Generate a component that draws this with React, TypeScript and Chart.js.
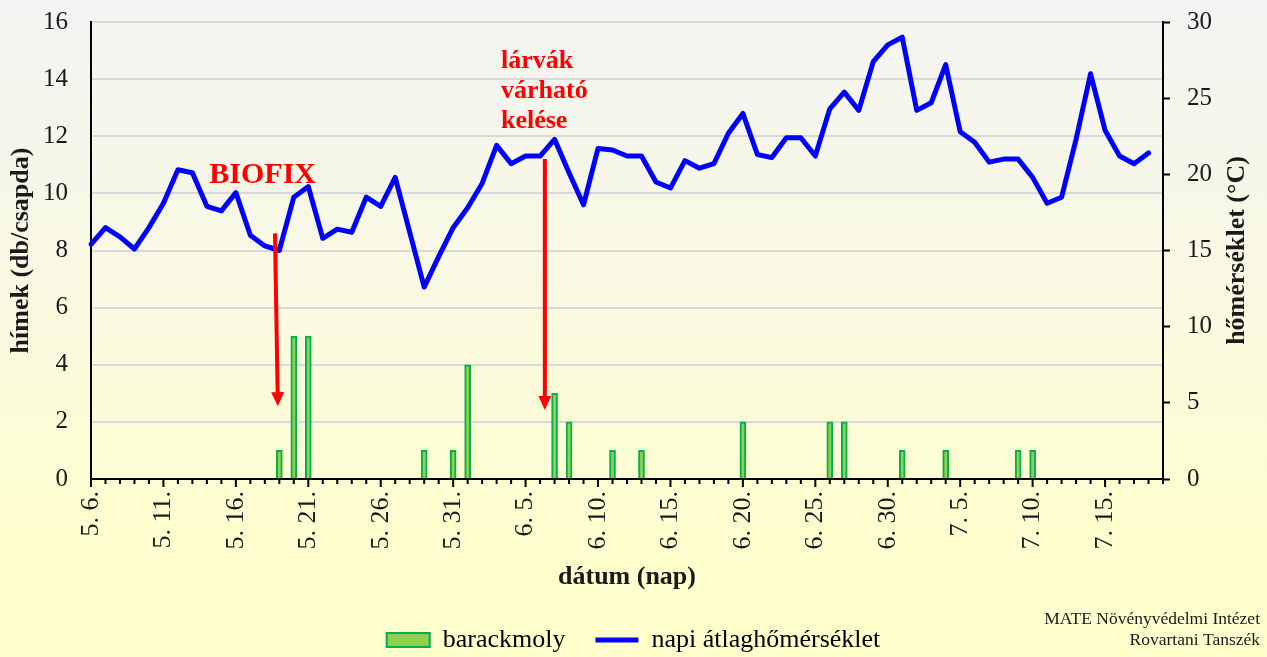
import React, { useEffect, useRef } from 'react';
import { Chart, registerables } from 'chart.js';

Chart.register(...registerables);

// ---------- DATA ----------
const categories: string[] = [
  '5. 6.', '5. 7.', '5. 8.', '5. 9.', '5. 10.', '5. 11.', '5. 12.', '5. 13.', '5. 14.', '5. 15.',
  '5. 16.', '5. 17.', '5. 18.', '5. 19.', '5. 20.', '5. 21.', '5. 22.', '5. 23.', '5. 24.', '5. 25.',
  '5. 26.', '5. 27.', '5. 28.', '5. 29.', '5. 30.', '5. 31.',
  '6. 1.', '6. 2.', '6. 3.', '6. 4.', '6. 5.', '6. 6.', '6. 7.', '6. 8.', '6. 9.', '6. 10.',
  '6. 11.', '6. 12.', '6. 13.', '6. 14.', '6. 15.', '6. 16.', '6. 17.', '6. 18.', '6. 19.', '6. 20.',
  '6. 21.', '6. 22.', '6. 23.', '6. 24.', '6. 25.', '6. 26.', '6. 27.', '6. 28.', '6. 29.', '6. 30.',
  '7. 1.', '7. 2.', '7. 3.', '7. 4.', '7. 5.', '7. 6.', '7. 7.', '7. 8.', '7. 9.', '7. 10.',
  '7. 11.', '7. 12.', '7. 13.', '7. 14.', '7. 15.', '7. 16.', '7. 17.', '7. 18.', '7. 19.',
];

// barackmoly (males per trap)
const mothCounts: (number | null)[] = [
  null, null, null, null, null, null, null, null, null, null,
  null, null, null, 1, 5, 5, null, null, null, null,
  null, null, null, 1, null, 1,
  4, null, null, null, null, null, 3, 2, null, null,
  1, null, 1, null, null, null, null, null, null, 2,
  null, null, null, null, null, 2, 2, null, null, null,
  1, null, null, 1, null, null, null, null, 1, 1,
  null, null, null, null, null, null, null, null, null,
];

// napi átlaghőmérséklet (°C)
const temperature: (number | null)[] = [
  15.4, 16.5, 15.9, 15.1, 16.5, 18.1, 20.3, 20.1, 17.9, 17.6,
  18.8, 16.0, 15.3, 15.0, 18.5, 19.2, 15.8, 16.4, 16.2, 18.5,
  17.9, 19.8, 16.2, 12.6, 14.6, 16.5,
  17.8, 19.4, 21.9, 20.7, 21.2, 21.2, 22.3, 20.1, 18.0, 21.7,
  21.6, 21.2, 21.2, 19.5, 19.1, 20.9, 20.4, 20.7, 22.7, 24.0,
  21.3, 21.1, 22.4, 22.4, 21.2, 24.3, 25.4, 24.2, 27.4, 28.5,
  29.0, 24.2, 24.7, 27.2, 22.8, 22.1, 20.8, 21.0, 21.0, 19.8,
  18.1, 18.5, 22.3, 26.6, 22.9, 21.2, 20.7, 21.4, null,
];

const labelEvery = 5;
const leftAxis = { min: 0, max: 16, step: 2 };
const rightAxis = { min: 0, max: 30, step: 5 };

// annotations in data coordinates (x = category index, y = left axis value)
const arrowBiofix = { x1: 12.7, y1: 8.6, x2: 12.9, y2: 2.55 };
const arrowLarvae = { x1: 31.33, y1: 11.2, x2: 31.33, y2: 2.42 };
const biofixLabel = { text: 'BIOFIX', x: 11.85, y: 10.36 };
const larvaeLines = ['lárvák', 'várható', 'kelése'];
const larvaeLineY = [14.39, 13.34, 12.29];
const larvaeX = 28.3;

const footerLines = ['MATE Növényvédelmi Intézet', 'Rovartani Tanszék'];

const FONT = "'Liberation Serif', 'Times New Roman', serif";
const TEXT = '#1a1a1a';

const W = 1267;
const H = 657;

const bgPlugin = {
  id: 'bgGradient',
  beforeDraw(chart: any) {
    const { ctx, width, height } = chart;
    const g = ctx.createLinearGradient(0, 0, 0, height);
    g.addColorStop(0, '#F3F4F2');
    g.addColorStop(0.45, '#F9F9E2');
    g.addColorStop(0.8, '#FEFECF');
    g.addColorStop(1, '#FFFFCB');
    ctx.save();
    ctx.fillStyle = g;
    ctx.fillRect(0, 0, width, height);
    ctx.restore();
  },
};

function drawArrow(ctx: CanvasRenderingContext2D, x1: number, y1: number, x2: number, y2: number) {
  const dx = x2 - x1;
  const dy = y2 - y1;
  const len = Math.hypot(dx, dy);
  const ux = dx / len;
  const uy = dy / len;
  const headLen = 14;
  const headHalf = 6.5;
  const bx = x2 - ux * headLen;
  const by = y2 - uy * headLen;
  ctx.save();
  ctx.strokeStyle = '#FF0000';
  ctx.fillStyle = '#FF0000';
  ctx.lineWidth = 4;
  ctx.beginPath();
  ctx.moveTo(x1, y1);
  ctx.lineTo(bx + ux * 1, by + uy * 1);
  ctx.stroke();
  ctx.beginPath();
  ctx.moveTo(x2, y2);
  ctx.lineTo(bx - uy * headHalf, by + ux * headHalf);
  ctx.lineTo(bx + uy * headHalf, by - ux * headHalf);
  ctx.closePath();
  ctx.fill();
  ctx.restore();
}

const annotationPlugin = {
  id: 'annotations',
  afterDatasetsDraw(chart: any) {
    const { ctx } = chart;
    const xs = chart.scales.x;
    const ys = chart.scales.y;
    const px = (v: number) => xs.getPixelForValue(v);
    const py = (v: number) => ys.getPixelForValue(v);

    drawArrow(ctx, px(arrowBiofix.x1), py(arrowBiofix.y1), px(arrowBiofix.x2), py(arrowBiofix.y2));
    drawArrow(ctx, px(arrowLarvae.x1), py(arrowLarvae.y1), px(arrowLarvae.x2), py(arrowLarvae.y2));

    ctx.save();
    ctx.fillStyle = '#FF0000';
    ctx.textBaseline = 'alphabetic';
    ctx.font = `bold 30px ${FONT}`;
    ctx.textAlign = 'center';
    ctx.fillText(biofixLabel.text, px(biofixLabel.x), py(biofixLabel.y));
    ctx.font = `bold 26px ${FONT}`;
    ctx.textAlign = 'left';
    larvaeLines.forEach((t, i) => {
      ctx.fillText(t, px(larvaeX), py(larvaeLineY[i]));
    });
    ctx.restore();
  },
  afterDraw(chart: any) {
    const { ctx, chartArea } = chart;
    const xs = chart.scales.x;
    const y1 = chart.scales.y1;
    // x-axis tick marks: minor each day, major every 5 days
    ctx.save();
    ctx.strokeStyle = '#000000';
    ctx.lineWidth = 2;
    ctx.beginPath();
    for (let i = 0; i < categories.length; i++) {
      const x = xs.getPixelForValue(i);
      const len = i % labelEvery === 0 ? 8 : 5;
      ctx.moveTo(x, chartArea.bottom);
      ctx.lineTo(x, chartArea.bottom + len);
    }
    ctx.stroke();

    // right axis title (reads bottom-to-top)
    ctx.fillStyle = TEXT;
    ctx.font = `bold 26px ${FONT}`;
    ctx.textAlign = 'center';
    ctx.textBaseline = 'middle';
    ctx.translate(y1.right - 30, (chartArea.top + chartArea.bottom) / 2);
    ctx.rotate(-Math.PI / 2);
    ctx.fillText('hőmérséklet (°C)', 0, 0);
    ctx.restore();

    // footer
    ctx.save();
    ctx.fillStyle = TEXT;
    ctx.font = `17.5px ${FONT}`;
    ctx.textAlign = 'right';
    ctx.textBaseline = 'alphabetic';
    ctx.fillText(footerLines[0], chart.width - 7, 624);
    ctx.fillText(footerLines[1], chart.width - 7, 645);
    ctx.restore();
  },
};

export default function App() {
  const canvasRef = useRef<HTMLCanvasElement | null>(null);

  useEffect(() => {
    if (!canvasRef.current) return;
    Chart.defaults.font.family = FONT;
    Chart.defaults.color = TEXT;

    const chart = new Chart(canvasRef.current, {
      type: 'bar',
      data: {
        labels: categories,
        datasets: [
          {
            type: 'line',
            label: 'napi átlaghőmérséklet',
            data: temperature,
            yAxisID: 'y1',
            borderColor: '#0000FF',
            backgroundColor: '#0000FF',
            borderWidth: 5,
            pointRadius: 0,
            tension: 0,
            borderJoinStyle: 'round',
            borderCapStyle: 'round',
            spanGaps: false,
            order: 0,
          } as any,
          {
            type: 'bar',
            label: 'barackmoly',
            data: mothCounts,
            yAxisID: 'y',
            backgroundColor: '#92D050',
            borderColor: '#00B050',
            borderWidth: 2,
            barThickness: 6,
            order: 1,
          } as any,
        ],
      },
      options: {
        responsive: false,
        animation: false,
        layout: { padding: { top: 22, left: 0, right: 0, bottom: -6 } },
        plugins: {
          tooltip: { enabled: false },
          legend: {
            display: true,
            position: 'bottom',
            labels: {
              usePointStyle: true,
              pointStyleWidth: 43,
              boxHeight: 14,
              padding: 30,
              color: TEXT,
              font: { family: FONT, size: 26 },
              generateLabels: () => [
                {
                  text: 'barackmoly',
                  fillStyle: '#92D050',
                  strokeStyle: '#00B050',
                  lineWidth: 2,
                  pointStyle: 'rect',
                  datasetIndex: 1,
                  hidden: false,
                } as any,
                {
                  text: 'napi átlaghőmérséklet',
                  fillStyle: '#0000FF',
                  strokeStyle: '#0000FF',
                  lineWidth: 5,
                  pointStyle: 'line',
                  datasetIndex: 0,
                  hidden: false,
                } as any,
              ],
            },
          },
        },
        scales: {
          x: {
            type: 'category',
            offset: false,
            grid: { display: false, drawTicks: false },
            border: { display: true, color: '#000000', width: 2 },
            ticks: {
              autoSkip: false,
              minRotation: 90,
              maxRotation: 90,
              padding: 12,
              color: TEXT,
              font: { family: FONT, size: 26 },
              callback: (_v: any, i: number) => (i % labelEvery === 0 ? categories[i] : ''),
            },
            title: {
              display: true,
              text: 'dátum (nap)',
              color: TEXT,
              font: { family: FONT, size: 26, weight: 'bold' },
              padding: { top: 0, bottom: 4 },
            },
            afterFit: (s: any) => {
              const lh = s.chart.legend ? s.chart.legend.height : 66;
              s.height = H + 6 - 479 - lh;
            },
          } as any,
          y: {
            position: 'left',
            min: leftAxis.min,
            max: leftAxis.max,
            ticks: {
              stepSize: leftAxis.step,
              padding: 23,
              color: TEXT,
              font: { family: FONT, size: 25 },
            },
            grid: {
              drawTicks: false,
              color: (c: any) => (c.tick && c.tick.value === 0 ? 'rgba(0,0,0,0)' : '#D9D9D9'),
              lineWidth: 2,
            },
            border: { display: true, color: '#000000', width: 2 },
            title: {
              display: true,
              text: 'hímek (db/csapda)',
              color: TEXT,
              font: { family: FONT, size: 26, weight: 'bold' },
              padding: { top: 6, bottom: 0 },
            },
            afterFit: (s: any) => {
              s.width = 91;
              s.paddingTop = 0;
              s.paddingBottom = 0;
            },
          } as any,
          y1: {
            position: 'right',
            min: rightAxis.min,
            max: rightAxis.max,
            ticks: {
              stepSize: rightAxis.step,
              padding: 17,
              color: TEXT,
              font: { family: FONT, size: 25 },
            },
            grid: {
              drawOnChartArea: false,
              drawTicks: true,
              tickLength: 7,
              tickColor: '#000000',
              tickWidth: 2,
            },
            border: { display: true, color: '#000000', width: 2 },
            afterFit: (s: any) => {
              s.width = W - 1163;
              s.paddingTop = 0;
              s.paddingBottom = 0;
            },
          } as any,
        },
      },
      plugins: [bgPlugin, annotationPlugin],
    });

    return () => {
      chart.destroy();
    };
  }, []);

  return (
    <div style={{ position: 'absolute', left: 0, top: 0, width: W, height: H }}>
      <canvas ref={canvasRef} width={W} height={H} />
    </div>
  );
}
